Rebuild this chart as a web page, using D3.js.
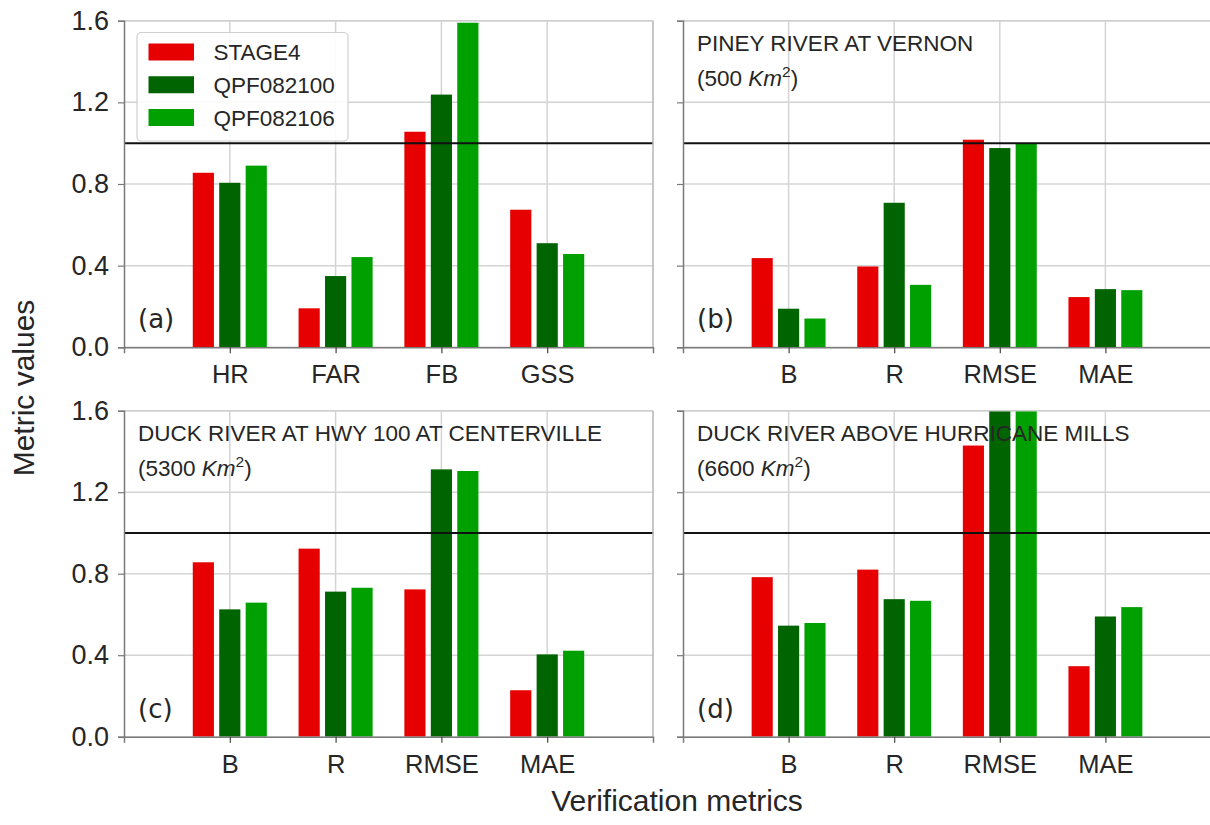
<!DOCTYPE html>
<html>
<head>
<meta charset="utf-8">
<script src="https://cdn.jsdelivr.net/npm/d3@7"></script>
<style>
  html, body { margin: 0; padding: 0; background: #fff; }
  svg { display: block; }
</style>
</head>
<body>
<svg id="chart" width="1210" height="825"></svg>
<script>
// Series and categories
const seriesNames = ["STAGE4", "QPF082100", "QPF082106"];
const seriesColors = ["#e60000", "#006400", "#00a000"];
const categoriesA = ["HR", "FAR", "FB", "GSS"];
const categoriesBCD = ["B", "R", "RMSE", "MAE"];
const yTicks = [0.0, 0.4, 0.8, 1.2, 1.6];

// (a) categorical skill scores
const stage4A = [0.855, 0.191, 1.056, 0.674];
const qpf00A  = [0.806, 0.349, 1.238, 0.510];
const qpf06A  = [0.890, 0.442, 1.590, 0.457];

// (b) Piney River at Vernon
const stage4B = [0.437, 0.396, 1.017, 0.246];
const qpf00B  = [0.189, 0.708, 0.976, 0.285];
const qpf06B  = [0.141, 0.306, 1.000, 0.280];

// (c) Duck River at Hwy 100 at Centerville
const stage4C = [0.856, 0.923, 0.723, 0.228];
const qpf00C  = [0.625, 0.712, 1.312, 0.404];
const qpf06C  = [0.658, 0.731, 1.304, 0.422];

// (d) Duck River above Hurricane Mills
const stage4D = [0.783, 0.820, 1.429, 0.346];
const qpf00D  = [0.545, 0.675, 1.700, 0.590];
const qpf06D  = [0.558, 0.667, 1.700, 0.636];

const panelTitles = [null, "PINEY RIVER AT VERNON", "DUCK RIVER AT HWY 100 AT CENTERVILLE", "DUCK RIVER ABOVE HURRICANE MILLS"];
const panelAreas = [null, "500", "5300", "6600"];
const panelLetters = ["(a)", "(b)", "(c)", "(d)"];

const SANS = "'Liberation Sans', Arial, Helvetica, sans-serif";
const DEJAVU = "'DejaVu Sans', sans-serif";

const svg = d3.select("#chart");

const colsX = [[124, 653], [683, 1211]];
const rowsY = [[20.7, 347.3], [410.7, 736.7]];

const panels = [
  { cats: categoriesA,   vals: [stage4A, qpf00A, qpf06A], col: 0, row: 0 },
  { cats: categoriesBCD, vals: [stage4B, qpf00B, qpf06B], col: 1, row: 0 },
  { cats: categoriesBCD, vals: [stage4C, qpf00C, qpf06C], col: 0, row: 1 },
  { cats: categoriesBCD, vals: [stage4D, qpf00D, qpf06D], col: 1, row: 1 }
];

panels.forEach((p, pi) => {
  const [xl, xr] = colsX[p.col];
  const [yt, yb] = rowsY[p.row];
  const x = d3.scaleLinear().domain([0, 5]).range([xl, xr]);
  const y = d3.scaleLinear().domain([0, 1.6]).range([yb, yt]);
  const g = svg.append("g");

  const clipId = "clip" + pi;
  svg.append("clipPath").attr("id", clipId)
    .append("rect").attr("x", xl).attr("y", yt).attr("width", xr - xl).attr("height", yb - yt);

  // grid
  const grid = g.append("g").attr("clip-path", `url(#${clipId})`);
  grid.selectAll("line.h").data(yTicks).join("line")
    .attr("x1", xl).attr("x2", xr)
    .attr("y1", d => y(d)).attr("y2", d => y(d))
    .attr("stroke", "#d4d4d4").attr("stroke-width", 1.5);
  grid.selectAll("line.v").data(p.cats).join("line")
    .attr("x1", (d, i) => x(i + 1)).attr("x2", (d, i) => x(i + 1))
    .attr("y1", yt).attr("y2", yb)
    .attr("stroke", "#d4d4d4").attr("stroke-width", 1.5);

  // bars
  const barW = x(0.2) - x(0);
  const bars = g.append("g").attr("clip-path", `url(#${clipId})`);
  p.vals.forEach((vals, si) => {
    bars.selectAll(null).data(vals).join("rect")
      .attr("x", (d, i) => x(i + 1 + (si - 1) * 0.25) - barW / 2)
      .attr("width", barW)
      .attr("y", d => y(d))
      .attr("height", d => y(0) - y(d))
      .attr("fill", seriesColors[si]);
  });

  // reference line at 1.0
  g.append("line")
    .attr("x1", xl).attr("x2", xr)
    .attr("y1", y(1.0)).attr("y2", y(1.0))
    .attr("stroke", "#111").attr("stroke-width", 2);

  // frame
  g.append("line").attr("x1", xl).attr("x2", xr).attr("y1", yt).attr("y2", yt)
    .attr("stroke", "#cfcfcf").attr("stroke-width", 1.5);
  g.append("line").attr("x1", xr).attr("x2", xr).attr("y1", yt).attr("y2", yb)
    .attr("stroke", "#b5b5b5").attr("stroke-width", 1.5);

  // y axis
  const yAxis = d3.axisLeft(y).tickValues(yTicks).tickSize(6).tickPadding(9)
    .tickFormat(p.col === 0 ? d3.format(".1f") : () => "");
  const ya = g.append("g").attr("transform", `translate(${xl},0)`).call(yAxis);
  ya.select(".domain").attr("stroke", "#7a7a7a").attr("stroke-width", 1.5);
  ya.selectAll(".tick line").attr("stroke", "#7a7a7a").attr("stroke-width", 1.2);
  ya.selectAll(".tick text").attr("fill", "#262626")
    .style("font-family", SANS).style("font-size", "27px");

  // x axis
  const xAxis = d3.axisBottom(x).tickValues([1, 2, 3, 4]).tickSize(6).tickPadding(12)
    .tickFormat((d, i) => p.cats[i]);
  const xa = g.append("g").attr("transform", `translate(0,${yb})`).call(xAxis);
  xa.select(".domain").attr("stroke", "#7a7a7a").attr("stroke-width", 1.5);
  xa.selectAll(".tick line").attr("stroke", "#444").attr("stroke-width", 1.2);
  xa.selectAll(".tick text").attr("fill", "#262626")
    .style("font-family", SANS).style("font-size", "25.5px");

  // panel letter
  g.append("text")
    .attr("x", xl + 14).attr("y", yb - 19)
    .attr("fill", "#262626")
    .style("font-family", DEJAVU).style("font-size", "26px")
    .text(panelLetters[pi]);

  // site name and drainage area
  if (panelTitles[pi]) {
    const tg = g.append("g").style("font-family", SANS).style("font-size", "22.5px").attr("fill", "#262626");
    tg.append("text").attr("x", xl + 14).attr("y", yt + 30).text(panelTitles[pi]);
    const t2 = tg.append("text").attr("x", xl + 14).attr("y", yt + 65);
    t2.append("tspan").text("(" + panelAreas[pi] + " ");
    t2.append("tspan").style("font-style", "italic").text("Km");
    t2.append("tspan").attr("dy", -9).style("font-size", "15.5px").text("2");
    t2.append("tspan").attr("dy", 9).text(")");
  }

  // legend
  if (pi === 0) {
    const lg = g.append("g");
    lg.append("rect")
      .attr("x", 137).attr("y", 32.5).attr("width", 211).attr("height", 108.5)
      .attr("rx", 4).attr("fill", "#fff").attr("fill-opacity", 0.9)
      .attr("stroke", "#d0d0d0").attr("stroke-width", 1.2);
    seriesNames.forEach((name, si) => {
      const cy = 52 + si * 32.75;
      lg.append("rect").attr("x", 148.5).attr("y", cy - 8.5).attr("width", 45.5).attr("height", 17)
        .attr("fill", seriesColors[si]);
      lg.append("text").attr("x", 213.5).attr("y", cy + 8)
        .attr("fill", "#262626")
        .style("font-family", SANS).style("font-size", "22.5px")
        .text(name);
    });
  }
});

// shared axis titles
svg.append("text")
  .attr("transform", "translate(34,388) rotate(-90)")
  .attr("text-anchor", "middle")
  .attr("fill", "#262626")
  .style("font-family", SANS).style("font-size", "30px")
  .text("Metric values");

svg.append("text")
  .attr("x", 677).attr("y", 811)
  .attr("text-anchor", "middle")
  .attr("fill", "#262626")
  .style("font-family", SANS).style("font-size", "30px")
  .text("Verification metrics");
</script>
</body>
</html>
